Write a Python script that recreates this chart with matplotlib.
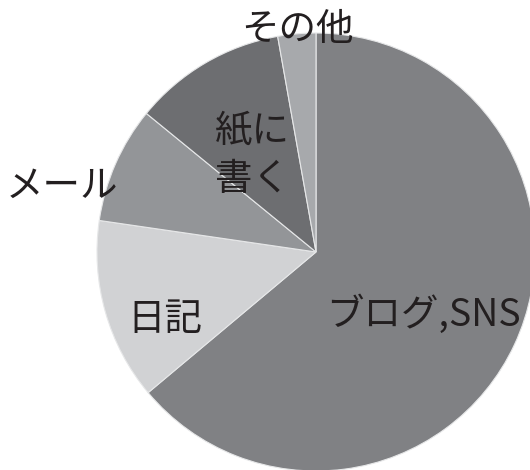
import matplotlib.pyplot as plt

plt.rcParams['font.family'] = ['Noto Sans CJK JP', 'DejaVu Sans']

labels = ['ブログ,SNS', '日記', 'メール', '紙に\n書く', 'その他']
shares = [63.9, 13.4, 8.6, 11.3, 2.8]
colors = ['#808184', '#d1d2d4', '#939598', '#6d6e71', '#a7a9ac']

# label anchor points in pie units (center 0,0, radius 1)
label_x = [0.49, -0.69, -1.16, -0.29, -0.087]
label_y = [-0.29, -0.31, 0.30, 0.44, 1.015]

fig = plt.figure(figsize=(5.3, 4.7), dpi=100)
# pie radius 219 px, centered at (316, 252) px
r = 219
ax = fig.add_axes([(316 - r) / 530, (470 - 252 - r) / 470, 2 * r / 530, 2 * r / 470])

ax.pie(shares, colors=colors, startangle=90, counterclock=False,
       wedgeprops=dict(edgecolor='#e6e7e8', linewidth=0.8))
ax.set_xlim(-1, 1)
ax.set_ylim(-1, 1)
ax.set_aspect('auto')

for lab, x, y in zip(labels, label_x, label_y):
    ax.text(x, y, lab, ha='center', va='center', fontsize=27,
            color='#231f20', linespacing=1.3, clip_on=False)

fig.savefig('out.png', dpi=100)
